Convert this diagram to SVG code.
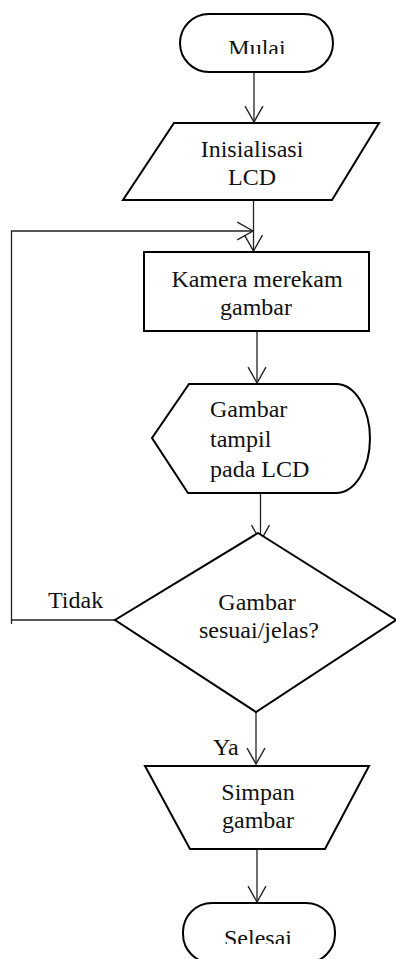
<svg xmlns="http://www.w3.org/2000/svg" width="396" height="959" viewBox="0 0 396 959">
<style>
.shape{fill:#fff;stroke:#000;stroke-width:2;stroke-linejoin:miter}
.conn{fill:none;stroke:#222;stroke-width:1.3}
text{font-family:"Liberation Serif","Times New Roman",serif;font-size:24px;fill:#111}
.c{text-anchor:middle}
</style>
<defs>
<marker id="arr" markerUnits="userSpaceOnUse" markerWidth="20" markerHeight="22" viewBox="-17 -10 19 20" refX="0" refY="0" orient="auto">
<path d="M-15,-8.5 L0,0 L-15,8.5" fill="none" stroke="#222" stroke-width="1.3"/>
</marker>
<clipPath id="clipMulai"><rect x="170" y="0" width="180" height="54"/></clipPath>
<clipPath id="clipSelesai"><rect x="170" y="900" width="180" height="44"/></clipPath>
</defs>
<rect width="396" height="959" fill="#fff"/>
<g id="connectors">
<line class="conn" x1="254" y1="72" x2="254" y2="122" marker-end="url(#arr)"/>
<line class="conn" x1="253.5" y1="201" x2="253.5" y2="251" marker-end="url(#arr)"/>
<polyline class="conn" points="115,620 11.5,620 11.5,231 253,231" marker-end="url(#arr)"/>
<line class="conn" x1="11.5" y1="620" x2="11.5" y2="624"/>
<line class="conn" x1="257" y1="331" x2="257" y2="383" marker-end="url(#arr)"/>
<line class="conn" x1="260.5" y1="493" x2="260.5" y2="541" marker-end="url(#arr)"/>
<line class="conn" x1="256" y1="712" x2="256" y2="764" marker-end="url(#arr)"/>
<line class="conn" x1="257" y1="849" x2="257" y2="902" marker-end="url(#arr)"/>
<text x="48" y="608">Tidak</text>
<text x="213" y="755">Ya</text>
</g>
<g id="mulai">
<rect class="shape" x="180" y="14" width="153" height="58" rx="29"/>
<text class="c" x="257" y="56" clip-path="url(#clipMulai)">Mulai</text>
</g>
<g id="inisialisasi">
<polygon class="shape" points="174,123 379,123 332,200 123,200"/>
<text class="c" x="252" y="157">Inisialisasi</text>
<text class="c" x="252" y="185">LCD</text>
</g>
<g id="kamera">
<rect class="shape" x="144" y="252" width="225" height="79"/>
<text class="c" x="257" y="287">Kamera merekam</text>
<text class="c" x="256" y="315">gambar</text>
</g>
<g id="tampil">
<path class="shape" d="M189,384 L336,384 A34,54.5 0 0 1 336,493 L188,493 L152,438 Z"/>
<text x="210" y="417">Gambar</text>
<text x="210" y="447">tampil</text>
<text x="210" y="477">pada LCD</text>
</g>
<g id="keputusan">
<polygon class="shape" points="258,533 396,620 256,712 115,620"/>
<text class="c" x="257" y="610">Gambar</text>
<text class="c" x="259" y="638">sesuai/jelas?</text>
</g>
<g id="simpan">
<polygon class="shape" points="145,766 369,766 325,849 190,849"/>
<text class="c" x="258" y="800">Simpan</text>
<text class="c" x="258" y="828">gambar</text>
</g>
<g id="selesai">
<rect class="shape" x="183" y="903" width="152" height="60" rx="29"/>
<text class="c" x="258" y="946" clip-path="url(#clipSelesai)">Selesai</text>
</g>
</svg>
